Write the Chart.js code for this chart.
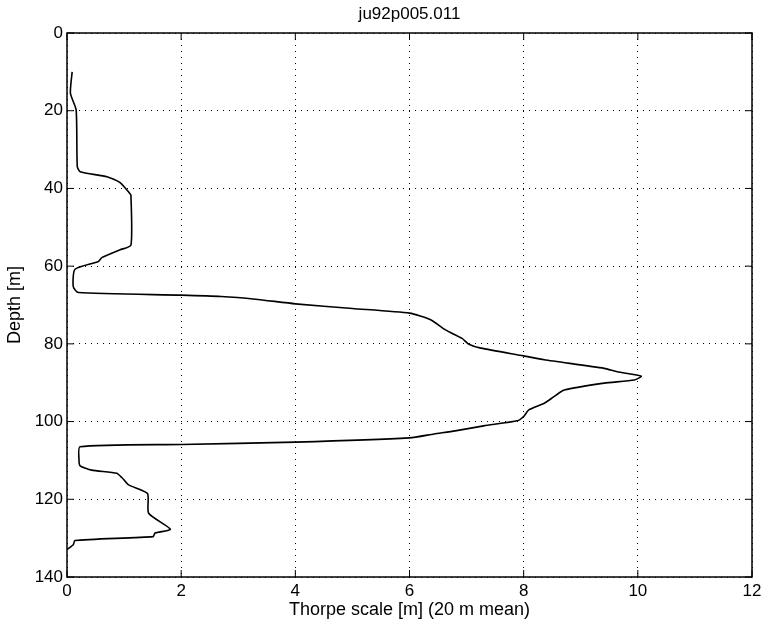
<!DOCTYPE html>
<html>
<head>
<meta charset="utf-8">
<script src="https://cdn.jsdelivr.net/npm/chart.js@4/dist/chart.umd.min.js"></script>
<style>
  html, body { margin: 0; padding: 0; background: #fff; }
  #wrap { width: 762px; height: 627px; }
</style>
</head>
<body>
<div id="wrap"><canvas id="thorpe"></canvas></div>
<script>
// Thorpe scale profile (20 m running mean) vs depth
const depth  = [10, 15.5, 19.8, 34.4, 35.7, 37, 38.5, 41.3, 41.7, 54.6, 55.8, 57.8, 58.8, 60.8, 65.3, 66.8,
                67.45, 67.8, 68.5, 69.7, 70.9, 72.1, 73.8, 76.4, 78.6, 80.1, 81.1, 83.1, 84.1, 86.3, 87.2, 88.3,
                89.3, 90.1, 91.9, 93.6, 95.3, 97, 98.7, 99.8, 101.1, 102.4, 103.2, 104.2, 105.3, 105.9, 106.5,
                109.9, 111.4, 112.5, 113.3, 114.4, 116.3, 118.5, 123.6, 127.7, 128.7, 129.6, 130.6, 131.7, 132.9];
const thorpe = [0.09, 0.06, 0.16, 0.18, 0.23, 0.70, 0.93, 1.10, 1.12, 1.12, 0.93, 0.61, 0.55, 0.14, 0.11, 0.20,
                2.0, 2.7, 3.3, 4.0, 5.0, 6.0, 6.37, 6.63, 6.92, 7.04, 7.25, 8.0, 8.36, 9.41, 9.64, 10.06,
                9.94, 9.41, 8.71, 8.53, 8.36, 8.09, 8.0, 7.89, 7.3, 6.8, 6.43, 6.0, 4.0, 2.0, 0.23,
                0.21, 0.23, 0.43, 0.87, 0.96, 1.08, 1.41, 1.43, 1.81, 1.54, 1.51, 0.14, 0.11, 0.0];
const xTicks = [0, 2, 4, 6, 8, 10, 12];
const yTicks = [0, 20, 40, 60, 80, 100, 120, 140];
const titleText = 'ju92p005.011';

const FONT = "'Liberation Sans', Arial, sans-serif";

// box around the plot, short inward tick marks, and the title centred over the plot
const frame = {
    id: 'frame',
    afterDraw(chart) {
        const { ctx, chartArea: a, scales } = chart;
        ctx.save();
        ctx.strokeStyle = '#000';
        ctx.lineWidth = 1.5;
        ctx.strokeRect(a.left, a.top, a.right - a.left, a.bottom - a.top);
        ctx.lineWidth = 1;
        ctx.beginPath();
        xTicks.forEach(v => {
            const px = scales.x.getPixelForValue(v);
            ctx.moveTo(px, a.bottom); ctx.lineTo(px, a.bottom - 7);
            ctx.moveTo(px, a.top); ctx.lineTo(px, a.top + 7);
        });
        yTicks.forEach(v => {
            const py = scales.y.getPixelForValue(v);
            ctx.moveTo(a.left, py); ctx.lineTo(a.left + 7, py);
            ctx.moveTo(a.right, py); ctx.lineTo(a.right - 7, py);
        });
        ctx.stroke();
        ctx.fillStyle = '#000';
        ctx.font = '17px ' + FONT;
        ctx.textAlign = 'center';
        ctx.textBaseline = 'middle';
        ctx.fillText(titleText, (a.left + a.right) / 2, 14);
        ctx.restore();
    }
};

new Chart(document.getElementById('thorpe').getContext('2d'), {
    type: 'scatter',
    data: {
        datasets: [{
            data: depth.map((d, i) => ({ x: thorpe[i], y: d })),
            showLine: true,
            borderColor: '#000',
            borderWidth: 1.6,
            pointRadius: 0,
            tension: 0.2,
            fill: false
        }]
    },
    options: {
        responsive: true,
        maintainAspectRatio: false,
        animation: false,
        layout: { padding: { left: 4, right: 10, top: 33, bottom: 0 } },
        plugins: {
            legend: { display: false },
            tooltip: { enabled: false },
            title: { display: false }
        },
        scales: {
            x: {
                type: 'linear',
                min: 0, max: 12,
                afterBuildTicks: s => { s.ticks = xTicks.map(v => ({ value: v })); },
                afterFit: s => { s.height = 50; s.paddingRight = 0; s.paddingLeft = 0; },
                grid: { color: '#000', lineWidth: 1, drawTicks: false },
                border: { display: false, dash: [1, 5] },
                ticks: { color: '#000', font: { family: FONT, size: 17 }, padding: 4, maxRotation: 0 },
                title: { display: true, text: 'Thorpe scale [m] (20 m mean)', color: '#000',
                         font: { family: FONT, size: 18 }, padding: { top: 0, bottom: 6 } }
            },
            y: {
                type: 'linear',
                reverse: true,
                min: 0, max: 140,
                afterBuildTicks: s => { s.ticks = yTicks.map(v => ({ value: v })); },
                afterFit: s => { s.width = 63; },
                grid: { color: '#000', lineWidth: 1, drawTicks: false },
                border: { display: false, dash: [1, 5] },
                ticks: { color: '#000', font: { family: FONT, size: 17 }, padding: 4 },
                title: { display: true, text: 'Depth [m]', color: '#000',
                         font: { family: FONT, size: 18 }, padding: { top: 0, bottom: 2 } }
            }
        }
    },
    plugins: [frame]
});
</script>
</body>
</html>
